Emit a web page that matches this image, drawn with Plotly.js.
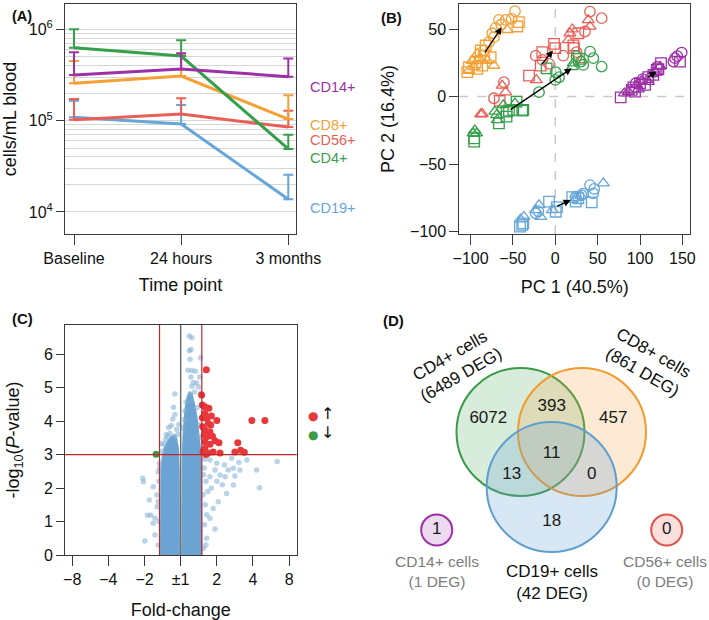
<!DOCTYPE html>
<html><head><meta charset="utf-8">
<script src="https://cdn.plot.ly/plotly-3.0.1.min.js"></script>
<style>html,body{margin:0;padding:0;background:#fff}#chart{width:709px;height:620px}</style>
</head><body><div id="chart"></div>
<script>
// ================= Panel A: cell counts =================
const timepoints = ['Baseline', '24 hours', '3 months'];
const cd19_mean  = [109000, 92000, 13800];
const cd19_upper = [165000, 148000, 25600];
const cd56_mean  = [102000, 118000, 85000];
const cd56_upper = [173000, 176000, 128000];
const cd8_mean   = [256000, 308000, 104000];
const cd8_upper  = [450000, 520000, 190000];
const cd4_mean   = [630000, 510000, 49000];
const cd4_upper  = [1000000, 760000, 70000];
const cd14_mean  = [316000, 368000, 303000];
const cd14_upper = [560000, 546000, 480000];
const yMajorTicks = [1e4, 1e5, 1e6];
const yMajorText = ['10<sup>4</sup>', '10<sup>5</sup>', '10<sup>6</sup>'];
const yMinorTicks = [2e4,3e4,4e4,5e4,6e4,7e4,8e4,9e4,2e5,3e5,4e5,5e5,6e5,7e5,8e5,9e5];

// ================= Panel B: PCA =================
const cd8_pc1 = [-47.6,-51.5,-58.6,-66.5,-63.8,-42.9,-44.8,-56.7,-70.4,-74.4,-72.4,-78.3,-82.2,-88.1,-92.1,-84.2,-76.3,-98,-94,-80.3,-101.9,-92.1,-101.9,-86.2,-103.9,-84.2,-72.4,-90,-96];
const cd8_pc2 = [63.4,57.7,56.9,56.9,53.5,55.2,52,49.5,51,47,44.1,40.4,37.9,34.2,31.7,30.4,29.2,26.7,25.5,26.7,21.8,20.6,19.3,23,18.1,34.2,23,28,22];
const cd8_shape = ['c','c','c','c','c','s','s','t','c','c','c','c','s','s','t','s','s','t','s','t','s','s','t','s','s','c','t','t','t'];

const cd56_pc1 = [40.9,54.7,39,41,35,27.2,17.3,20,15.4,21.3,-1.5,0,-15.3,-23.1,-15.3,-7.4,9.4,-17.2,31,-31,-22.4,-60.6,-62.6,-58.6,-72.4,-65.6,-86.2,-88,25,22];
const cd56_pc2 = [63.1,58.2,56.9,52,48.3,47,47,50,42,38,39.1,36,33,30.4,27.2,24.3,30.4,23,27.2,15.6,12.4,10.7,8.2,3.3,-1.2,-3,-12.8,-13,33,36];
const cd56_shape = ['c','c','t','t','c','s','t','t','t','s','s','s','s','c','c','c','c','s','t','s','t','c','t','t','c','s','t','t','c','s'];

const cd4_pc1 = [41,30.3,54.7,44.9,33,0.5,4.4,0,-19.2,25,21.3,20.1,-71.3,-69.3,-61.4,-47.6,-68.5,-96.9,-92.9,-95,-10.2,28,-57.5,-49.6,-37.8,-45.7,-66.5,-57.5,-54.7,-95.7,-95.7,-39];
const cd4_pc2 = [33.4,26,22.3,28.5,23.5,18.1,14.4,12.4,3.3,30,24.8,22,-11.1,-13.6,-6.2,-5,-17.3,-27.2,-27.2,-25,21,28,-14.9,-9.9,-9.9,-3.7,-19.8,-11.1,-10.4,-33.4,-30.9,-10.4];
const cd4_shape = ['c','c','c','c','c','c','c','c','c','c','t','t','t','t','t','t','t','t','t','t','s','s','s','s','s','s','s','s','s','s','s','s'];

const cd14_pc1 = [77.2,86.2,92.1,96,100,102,109.8,113.8,119.7,123.6,124.8,90.2,98,105.9,109.8,117.7,121.7,81.5,94.1,115.7,95,103,141.3,149.2,139.4,147.2,144,120];
const cd14_pc2 = [-0.5,3.7,6.9,8.7,9.9,11.9,14.4,16.8,19.8,22.3,24.8,5,5.4,8.7,11.1,18.6,20.3,2.5,3.7,16.1,10,13,28.5,32.7,26,26,30,22];
const cd14_shape = ['s','t','s','t','s','t','s','t','s','t','s','s','t','s','t','t','s','t','s','s','c','c','c','c','c','s','c','c'];

const cd19_pc1 = [-37,-23.1,-19.2,-3.5,-17.2,56.7,25,30,-41,-39,-41.7,-37.8,-7.4,0.5,24.1,43,27.2,20,2,-23.1,24.1,41,46,44.9,30.9,-20,33];
const cd19_pc2 = [-89.1,-84.1,-80.4,-84.1,-89.1,-64.3,-75,-73.5,-91,-95.2,-96.5,-94,-77.9,-85.4,-77.9,-78.4,-75.4,-74.5,-82,-86.6,-74.2,-65.6,-68.5,-71.7,-73,-85,-72];
const cd19_shape = ['t','t','t','t','t','t','t','t','t','s','s','s','s','s','s','s','s','s','s','c','c','c','c','c','c','c','c'];

// group mean shift arrows (baseline -> later), order: CD8, CD56, CD4, CD14, CD19
const arrow_from_pc1 = [-84.2, -17.2, -54.7, 107.9, 0.5];
const arrow_from_pc2 = [31.7, 23, -10.4, 13.9, -81.7];
const arrow_to_pc1   = [-63.3, -2.7, 19.4, 119.7, 18.2];
const arrow_to_pc2   = [51.5, 34.2, 21, 18.6, -76.7];

// ================= Panel C: volcano =================
const fc_threshold = 1.5;   // fold-change cut-off
const p_threshold = 3;      // -log10(P) cut-off
const fcTickVals = [-3,-2,-1,0,1,2,3];
const fcTickText = ['\u22128','\u22124','\u22122','\u00b11','2','4','8'];
// dense core of non-significant genes (outline of the saturated cloud)
const core_left_x  = [-0.57,-0.57,-0.56,-0.53,-0.47,-0.38,-0.28,-0.18,-0.1,-0.05,-0.025,-0.02];
const core_left_y  = [0,1.5,2.4,2.9,3.2,3.4,3.55,3.6,3.5,3.2,2.5,0];
const core_right_x = [0.02,0.025,0.04,0.07,0.11,0.17,0.25,0.33,0.4,0.47,0.53,0.57,0.59,0.6,0.6];
const core_right_y = [0,2.5,3.3,3.9,4.4,4.75,4.9,4.8,4.5,4.1,3.6,3.1,2.4,1.2,0];
// individually visible non-significant genes
const ns_x = [0.24,0.31,0.285,0.24,0.26,0.55,0.2,0.31,0.41,0.53,0.285,0.35,0.44,0.31,0.49,0.38,0.26,0.55,0.15,0.3,0.1,
  -0.16,-0.2,-0.16,-0.22,-0.26,-0.33,-0.11,-0.3,-0.36,-0.42,-0.08,-0.18,-0.45,-0.5,
  0.67,0.81,1.0,1.21,1.41,1.61,1.83,2.67,2.1,1.32,1.46,1.64,0.95,1.09,1.23,1.5,0.81,2.18,1.46,1.27,1.04,0.95,0.9,0.81,0.72,0.65,0.7,0.75,0.68,0.72,0.66,0.7,0.63,0.85,1.0,1.15,0.62,0.64,
  -1.05,-1.03,-0.76,-0.87,-0.92,-0.83,-0.71,-0.76,-0.65,-0.66,-0.99,-0.71,-0.62,-0.59,-0.53,-0.62,-0.6,-0.62,-0.6,-0.58,
  0.12,0.45,0.5,-0.05,-0.4,0.06,0.52];
const ns_y = [6.54,6.49,6.14,6.10,5.85,5.89,5.52,5.51,5.49,5.32,5.32,5.15,5.14,5.04,5.02,4.87,4.81,4.83,4.57,4.59,4.05,
  4.81,4.41,4.2,4.06,3.87,3.81,3.75,3.63,3.53,3.45,3.6,3.55,3.3,3.1,
  2.86,2.84,2.74,2.69,2.89,2.76,2.84,2.79,2.54,2.54,2.59,2.54,2.54,2.39,2.34,2.36,2.34,2.01,2.09,1.84,1.59,0.78,1.39,1.1,0.5,2.6,2.2,1.9,1.5,1.2,0.9,0.3,0.2,2.0,2.2,2.1,1.8,2.4,
  2.29,2.19,2.04,1.64,1.19,1.19,1.1,0.95,1.44,1.79,0.42,0.6,2.49,2.74,3.33,0.3,1.0,1.6,2.2,2.6,
  4.3,4.4,3.9,3.9,3.6,3.8,3.5];
const up_x = [0.71,0.58,0.6,0.67,0.78,0.67,0.85,0.72,1.0,0.77,0.83,0.61,1.97,2.33,0.67,0.81,0.72,0.65,0.67,0.95,1.06,0.81,1.58,0.67,0.9,1.09,1.5,1.66,1.76,0.76,0.62,0.7,0.6,0.88];
const up_y = [5.53,4.78,4.48,4.43,4.38,4.23,4.15,4.08,4.02,3.93,3.88,3.83,4.02,4.02,3.73,3.68,3.53,3.58,3.38,3.41,3.35,3.31,3.35,3.18,3.08,3.05,3.08,3.13,3.07,3.05,3.1,3.0,4.1,3.55];
const down_x = [-0.68];
const down_y = [3.01];

// ================= Panel D: Venn =================
const venn_region_counts = [6072, 393, 457, 11, 13, 0, 18, 1, 0]; // CD4only, CD4&8, CD8only, all, CD4&19, CD8&19, CD19only, CD14, CD56
const venn_set_labels = ['CD4+ cells<br>(6489 DEG)', 'CD8+ cells<br>(861 DEG)', 'CD19+ cells<br>(42 DEG)', 'CD14+ cells<br>(1 DEG)', 'CD56+ cells<br>(0 DEG)'];

// ================= drawing =================
const FONT = 'Liberation Sans, Arial, Helvetica, sans-serif';
const C = {green:'#35a04a', purple:'#9d30a6', orange:'#f5a035', red:'#e95f57', blue:'#66a6d8'};
const symMap = {c:'circle-open', t:'triangle-up-open', s:'square-open'};

const traces = [];
function lineTrace(mean, upper, color){
  traces.push({x: timepoints, y: mean, type:'scatter', mode:'lines', xaxis:'x', yaxis:'y',
    line:{color:color, width:3},
    error_y:{type:'data', symmetric:false, array: upper.map((u,i)=>u-mean[i]), arrayminus: mean.map(()=>0), color:color, thickness:2, width:5},
    hoverinfo:'skip'});
}
lineTrace(cd19_mean, cd19_upper, C.blue);
lineTrace(cd56_mean, cd56_upper, C.red);
lineTrace(cd8_mean, cd8_upper, C.orange);
lineTrace(cd4_mean, cd4_upper, C.green);
lineTrace(cd14_mean, cd14_upper, C.purple);

function pcaTrace(xs, ys, shapes, color){
  traces.push({x: xs, y: ys, type:'scatter', mode:'markers', xaxis:'x2', yaxis:'y2',
    marker:{symbol: shapes.map(s=>symMap[s]), size:10.5, color:color, line:{width:1.3, color:color}},
    hoverinfo:'skip'});
}
pcaTrace(cd8_pc1, cd8_pc2, cd8_shape, C.orange);
pcaTrace(cd56_pc1, cd56_pc2, cd56_shape, C.red);
pcaTrace(cd4_pc1, cd4_pc2, cd4_shape, C.green);
pcaTrace(cd14_pc1, cd14_pc2, cd14_shape, C.purple);
pcaTrace(cd19_pc1, cd19_pc2, cd19_shape, C.blue);

// volcano
[[core_left_x, core_left_y],[core_right_x, core_right_y]].forEach(([xs,ys])=>{
  traces.push({x: xs, y: ys, type:'scatter', mode:'lines', fill:'toself', fillcolor:'#6ba4d2',
    line:{width:0, color:'#6ba4d2'}, xaxis:'x3', yaxis:'y3', hoverinfo:'skip'});
});
traces.push({x: ns_x, y: ns_y, type:'scatter', mode:'markers', xaxis:'x3', yaxis:'y3',
  marker:{size:5.5, color:'rgba(130,175,212,0.55)'}, hoverinfo:'skip'});
traces.push({x: up_x, y: up_y, type:'scatter', mode:'markers', xaxis:'x3', yaxis:'y3',
  marker:{size:7, color:'#e8383b'}, hoverinfo:'skip'});
traces.push({x: down_x, y: down_y, type:'scatter', mode:'markers', xaxis:'x3', yaxis:'y3',
  marker:{size:7, color:'#3a9a46'}, hoverinfo:'skip'});

// Venn region counts (positions on the pixel-scaled panel D axes)
const vennCountX = [488.3, 551.7, 613.3, 551.7, 511.7, 591.7, 551.7, 436.7, 666.7];
const vennCountY = [418.3, 406.7, 418.3, 453.3, 475, 475, 521.7, 530, 530];
traces.push({x: vennCountX, y: vennCountY, type:'scatter', mode:'text', xaxis:'x4', yaxis:'y4',
  text: venn_region_counts.map(String), textfont:{size:17, color:'#1a1a1a', family:FONT},
  textposition:'middle center', hoverinfo:'skip'});

const frame = {showline:true, mirror:true, linecolor:'#3a3a3a', linewidth:1, zeroline:false, showgrid:false,
  ticks:'outside', ticklen:8, tickcolor:'#3a3a3a', tickwidth:1, tickfont:{size:16, color:'#111', family:FONT}};
const titleFont = {size:18, color:'#111', family:FONT};

const shapes = [];
// panel B dashed zero lines
shapes.push({type:'line', xref:'x2', yref:'y2 domain', x0:0, x1:0, y0:0, y1:1, line:{color:'#c9c9c9', width:1.5, dash:'dash'}, layer:'below'});
shapes.push({type:'line', xref:'x2 domain', yref:'y2', x0:0, x1:1, y0:0, y1:0, line:{color:'#c9c9c9', width:1.5, dash:'dash'}, layer:'below'});
// panel C thresholds
const lfc = Math.log2(fc_threshold);
[-lfc, lfc].forEach(v=>shapes.push({type:'line', xref:'x3', yref:'y3 domain', x0:v, x1:v, y0:0, y1:1, line:{color:'#b8282d', width:1.2}}));
shapes.push({type:'line', xref:'x3 domain', yref:'y3', x0:0, x1:1, y0:p_threshold, y1:p_threshold, line:{color:'#b8282d', width:1.2}});
shapes.push({type:'line', xref:'x3', yref:'y3 domain', x0:0, x1:0, y0:0, y1:1, line:{color:'#6e6e6e', width:1.5}});
// Venn circles
function circ(cx, cy, r, line, fill){
  shapes.push({type:'circle', xref:'x4', yref:'y4', x0:cx-r, x1:cx+r, y0:cy-r, y1:cy+r, line:{color:line, width:2}, fillcolor:fill, layer:'below'});
}
circ(520.5, 432, 64, '#3a9a48', 'rgba(60,160,75,0.20)');
circ(582, 432, 64, '#f29a2e', 'rgba(245,160,60,0.22)');
circ(551.7, 487, 65, '#5e9fcf', 'rgba(100,160,210,0.25)');
circ(436.7, 530, 15.5, '#9d30a6', 'rgba(157,48,166,0.18)');
circ(666.7, 530, 15.5, '#e0524b', 'rgba(233,95,87,0.20)');

const ann = [];
function pl(text, x, y, opt){ ann.push(Object.assign({text:text, xref:'paper', yref:'paper', x:x/709, y:1-y/620, showarrow:false, font:{size:15, family:FONT, color:'#111'}}, opt||{})); }
pl('<b>(A)</b>', 11, 7, {borderpad:0, font:{size:14.5, family:FONT, color:'#111'}});
pl('<b>(B)</b>', 391.7, 7);
pl('<b>(C)</b>', 10, 318.5);
pl('<b>(D)</b>', 393, 320);
// A series labels
[['CD14+', 76.7, C.purple], ['CD8+', 115, C.orange], ['CD56+', 130, C.red], ['CD4+', 148.3, C.green], ['CD19+', 198.3, C.blue]].forEach(([t,y,c])=>{
  pl(t, 308, y, {xanchor:'left', font:{size:14.5, family:FONT, color:c}});
});
// C legend
pl('\u25cf', 313, 425, {font:{size:12, family:'DejaVu Sans', color:'#e8383b'}});
pl('\u2191', 327, 425, {font:{size:16, family:'DejaVu Sans', color:'#111'}});
pl('\u25cf', 313, 444, {font:{size:12, family:'DejaVu Sans', color:'#3a9a46'}});
pl('\u2193', 327, 444, {font:{size:16, family:'DejaVu Sans', color:'#111'}});
// B arrows
for (let i=0;i<arrow_to_pc1.length;i++){
  ann.push({xref:'x2', yref:'y2', axref:'x2', ayref:'y2', x:arrow_to_pc1[i], y:arrow_to_pc2[i], ax:arrow_from_pc1[i], ay:arrow_from_pc2[i],
    text:'', showarrow:true, arrowhead:2, arrowsize:1.1, arrowwidth:1.3, arrowcolor:'#000', standoff:0});
}
// Venn set labels
function vl(text, x, y, angle, color, size){
  ann.push({text:text, xref:'x4', yref:'y4', x:x, y:y, showarrow:false, textangle:angle, font:{size:size||17, family:FONT, color:color}, align:'center'});
}
vl(venn_set_labels[0], 455, 365, -30, '#111');
vl(venn_set_labels[1], 648, 362, 30, '#111');
vl(venn_set_labels[2], 551.7, 582.5, 0, '#111');
vl(venn_set_labels[3], 436.7, 571, 0, '#7d7d7d', 15.5);
vl(venn_set_labels[4], 664.5, 571, 0, '#7d7d7d', 15.5);

const layout = {
  width:709, height:620, margin:{l:0,r:0,t:0,b:0}, showlegend:false,
  paper_bgcolor:'#fff', plot_bgcolor:'rgba(0,0,0,0)', font:{family:FONT, color:'#111'},
  xaxis: Object.assign({}, frame, {domain:[65/709, 296/709], anchor:'y', type:'category', range:[-0.084, 2.072], ticklen:10,
    title:{text:'Time point', font:titleFont, standoff:12}}),
  yaxis: Object.assign({}, frame, {domain:[1-234/620, 1-4/620], anchor:'x', type:'log', range:[3.759, 6.277],
    tickmode:'array', tickvals:yMajorTicks, ticktext:yMajorText, showgrid:true, gridcolor:'#d6d6d6', gridwidth:1,
    minor:{tickmode:'array', tickvals:yMinorTicks, showgrid:true, gridcolor:'#d6d6d6', gridwidth:1, ticks:''},
    title:{text:'cells/mL blood', font:titleFont, standoff:8}}),
  xaxis2: Object.assign({}, frame, {domain:[459.3/709, 690/709], anchor:'y2', range:[-113.3, 159], tickmode:'array', tickvals:[-100,-50,0,50,100,150], ticklen:10,
    title:{text:'PC 1 (40.5%)', font:titleFont, standoff:14}}),
  yaxis2: Object.assign({}, frame, {domain:[1-234/620, 1-4/620], anchor:'x2', range:[-101.9, 68.7], tickmode:'array', tickvals:[-100,-50,0,50], ticklen:9,
    title:{text:'PC 2 (16.4%)', font:titleFont, standoff:10}}),
  xaxis3: Object.assign({}, frame, {domain:[65/709, 296.7/709], anchor:'y3', range:[-3.2, 3.21], tickmode:'array', tickvals:fcTickVals, ticktext:fcTickText, ticklen:10,
    title:{text:'Fold-change', font:titleFont, standoff:16}}),
  yaxis3: Object.assign({}, frame, {domain:[1-555/620, 1-325/620], anchor:'x3', range:[0, 6.87], tickmode:'array', tickvals:[0,1,2,3,4,5,6],
    title:{text:'-log<sub>10</sub>(<i>P</i>-value)', font:titleFont, standoff:19}}),
  xaxis4: {domain:[0.5, 1], anchor:'y4', range:[354.5, 709], visible:false, fixedrange:true},
  yaxis4: {domain:[0, 0.5], anchor:'x4', range:[620, 310], visible:false, fixedrange:true},
  shapes: shapes, annotations: ann
};
Plotly.newPlot('chart', traces, layout, {staticPlot:true, displayModeBar:false});
</script></body></html>
